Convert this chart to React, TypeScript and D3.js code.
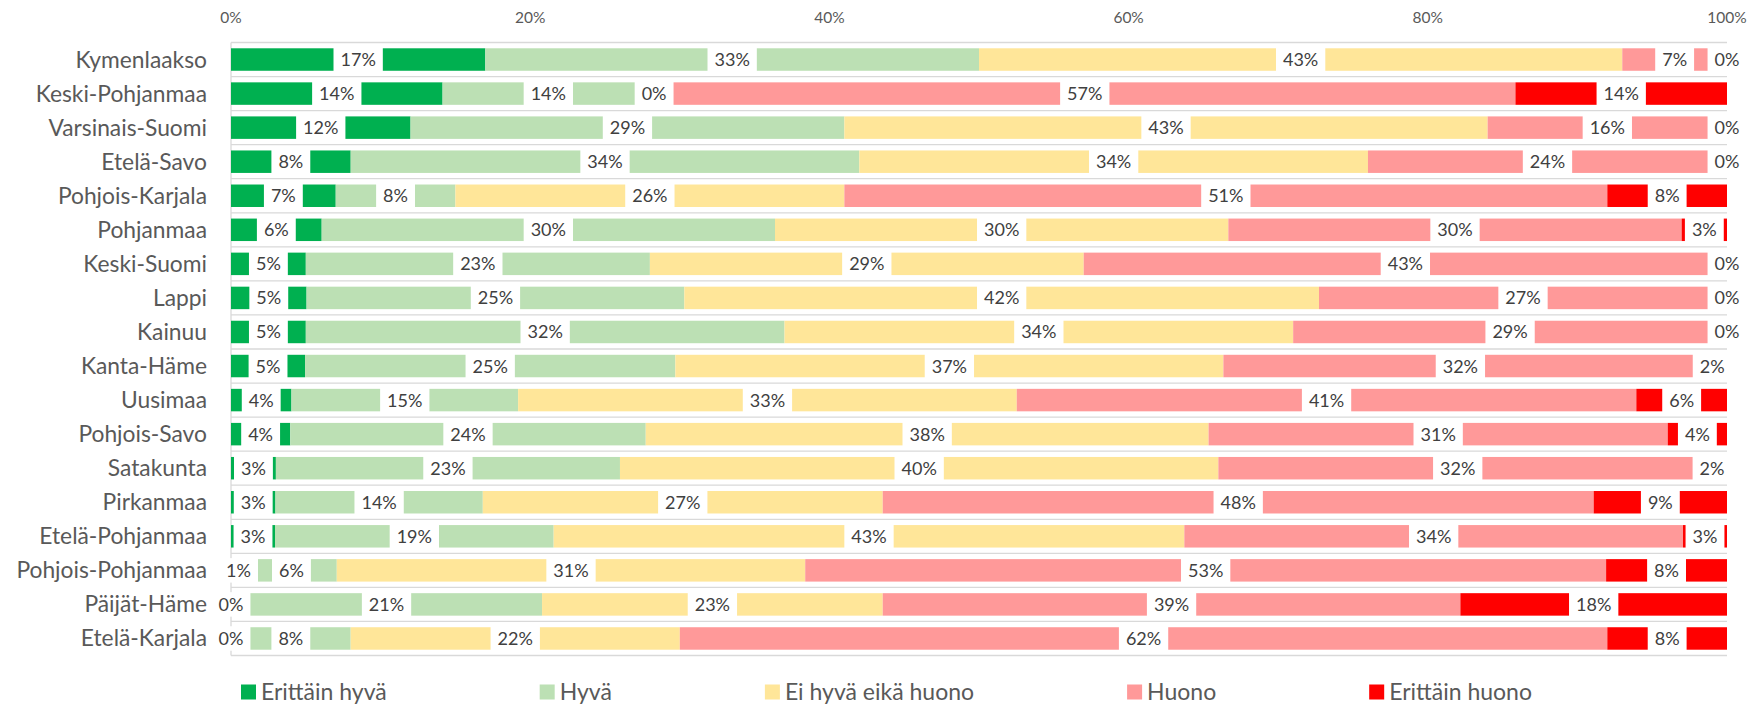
import { useEffect, useRef } from "react";
import * as d3 from "d3";

const width = 1757;
const height = 707;

const MARGIN = { top: 42.5, right: 30, bottom: 51.5, left: 231 };

const regions = [
  "Kymenlaakso",
  "Keski-Pohjanmaa",
  "Varsinais-Suomi",
  "Etelä-Savo",
  "Pohjois-Karjala",
  "Pohjanmaa",
  "Keski-Suomi",
  "Lappi",
  "Kainuu",
  "Kanta-Häme",
  "Uusimaa",
  "Pohjois-Savo",
  "Satakunta",
  "Pirkanmaa",
  "Etelä-Pohjanmaa",
  "Pohjois-Pohjanmaa",
  "Päijät-Häme",
  "Etelä-Karjala",
];

// percentages per region, same order as regions
const erittainHyva = [17, 14, 12, 8, 7, 6, 5, 5, 5, 5, 4, 4, 3, 3, 3, 1, 0, 0];
const hyva = [33, 14, 29, 34, 8, 30, 23, 25, 32, 25, 15, 24, 23, 14, 19, 6, 21, 8];
const eiHyvaEikaHuono = [43, 0, 43, 34, 26, 30, 29, 42, 34, 37, 33, 38, 40, 27, 43, 31, 23, 22];
const huono = [7, 57, 16, 24, 51, 30, 43, 27, 29, 32, 41, 31, 32, 48, 34, 53, 39, 62];
const erittainHuono = [0, 14, 0, 0, 8, 3, 0, 0, 0, 2, 6, 4, 2, 9, 3, 8, 18, 8];

const seriesNames = ["Erittäin hyvä", "Hyvä", "Ei hyvä eikä huono", "Huono", "Erittäin huono"];
const seriesValues = [erittainHyva, hyva, eiHyvaEikaHuono, huono, erittainHuono];
const colors = ["#00B050", "#BCE0B4", "#FFE699", "#FF9999", "#FF0000"];

const tickValues = [0, 0.2, 0.4, 0.6, 0.8, 1];

const FONT = "Lato, 'Open Sans', sans-serif";

function StackedBarChart() {
  const svgRef = useRef(null);

  useEffect(() => {
    const svg = d3.select(svgRef.current);
    svg.selectAll("*").remove();

    const rows = regions.map((r, i) => {
      const o: any = { region: r };
      seriesNames.forEach((s, j) => (o[s] = seriesValues[j][i]));
      return o;
    });

    const stack = d3.stack().keys(seriesNames).offset(d3.stackOffsetExpand);
    const layers = stack(rows);

    const x = d3.scaleLinear().domain([0, 1]).range([MARGIN.left, width - MARGIN.right]);
    const y = d3
      .scaleBand()
      .domain(regions)
      .range([MARGIN.top, height - MARGIN.bottom])
      .paddingInner(0.34)
      .paddingOuter(0.17);
    const step = y.step();

    // horizontal separators
    svg
      .append("g")
      .selectAll("line")
      .data(d3.range(regions.length + 1))
      .join("line")
      .attr("x1", x(0))
      .attr("x2", x(1))
      .attr("y1", (i) => MARGIN.top + i * step)
      .attr("y2", (i) => MARGIN.top + i * step)
      .attr("stroke", "#D9D9D9")
      .attr("stroke-width", 1.3);

    svg
      .append("line")
      .attr("x1", x(0))
      .attr("x2", x(0))
      .attr("y1", MARGIN.top)
      .attr("y2", height - MARGIN.bottom)
      .attr("stroke", "#D9D9D9")
      .attr("stroke-width", 1.3);

    // top tick labels
    svg
      .append("g")
      .selectAll("text")
      .data(tickValues)
      .join("text")
      .attr("x", (d) => x(d))
      .attr("y", 18)
      .attr("dy", "0.35em")
      .attr("text-anchor", "middle")
      .attr("fill", "#595959")
      .style("font-family", FONT)
      .style("font-size", "15.5px")
      .text((d) => d3.format(".0%")(d));

    // category labels
    svg
      .append("g")
      .selectAll("text")
      .data(regions)
      .join("text")
      .attr("x", x(0) - 24)
      .attr("y", (d) => y(d)! + y.bandwidth() / 2)
      .attr("dy", "0.35em")
      .attr("text-anchor", "end")
      .attr("fill", "#595959")
      .style("font-family", FONT)
      .style("font-size", "22.8px")
      .text((d) => d);

    // bars
    layers.forEach((layer, li) => {
      svg
        .append("g")
        .attr("fill", colors[li])
        .selectAll("rect")
        .data(layer)
        .join("rect")
        .attr("x", (d) => x(d[0]))
        .attr("y", (d: any) => y(d.data.region)!)
        .attr("width", (d) => Math.max(0, x(d[1]) - x(d[0])))
        .attr("height", y.bandwidth());
    });

    // data labels with white boxes
    const labelG = svg.append("g");
    layers.forEach((layer, li) => {
      layer.forEach((d: any, ri) => {
        const cx = (x(d[0]) + x(d[1])) / 2;
        const cy = y(d.data.region)! + y.bandwidth() / 2;
        const g = labelG.append("g");
        const box = g.append("rect").attr("fill", "white");
        const t = g
          .append("text")
          .attr("x", cx)
          .attr("y", cy)
          .attr("dy", "0.36em")
          .attr("text-anchor", "middle")
          .attr("fill", "#404040")
          .style("font-family", FONT)
          .style("font-size", "18px")
          .text(`${seriesValues[li][ri]}%`);
        const w = (t.node() as SVGTextElement).getComputedTextLength() + 14;
        box
          .attr("x", cx - w / 2)
          .attr("y", cy - y.bandwidth() / 2 - 1)
          .attr("width", w)
          .attr("height", y.bandwidth() + 2);
      });
    });

    // legend, spread between the first and last entry edges
    const legendLeft = 241;
    const legendRight = 1532;
    const sq = 15;
    const gapText = 5;
    const legend = svg.append("g").attr("transform", "translate(0,692)");
    const items = seriesNames.map((name, i) => {
      const item = legend.append("g");
      item
        .append("rect")
        .attr("x", 0)
        .attr("y", -sq / 2)
        .attr("width", sq)
        .attr("height", sq)
        .attr("fill", colors[i]);
      const t = item
        .append("text")
        .attr("x", sq + gapText)
        .attr("y", 0)
        .attr("dy", "0.35em")
        .attr("fill", "#595959")
        .style("font-family", FONT)
        .style("font-size", "23px")
        .text(name);
      const w = sq + gapText + (t.node() as SVGTextElement).getComputedTextLength();
      return { item, w };
    });
    const total = d3.sum(items, (d) => d.w);
    const gap = (legendRight - legendLeft - total) / (items.length - 1);
    let pos = legendLeft;
    items.forEach(({ item, w }) => {
      item.attr("transform", `translate(${pos},0)`);
      pos += w + gap;
    });
  }, []);

  return (
    <svg
      ref={svgRef}
      width={width}
      height={height}
      style={{ position: "absolute", left: 0, top: 0, background: "white" }}
    />
  );
}

export default function App() {
  return <StackedBarChart />;
}
